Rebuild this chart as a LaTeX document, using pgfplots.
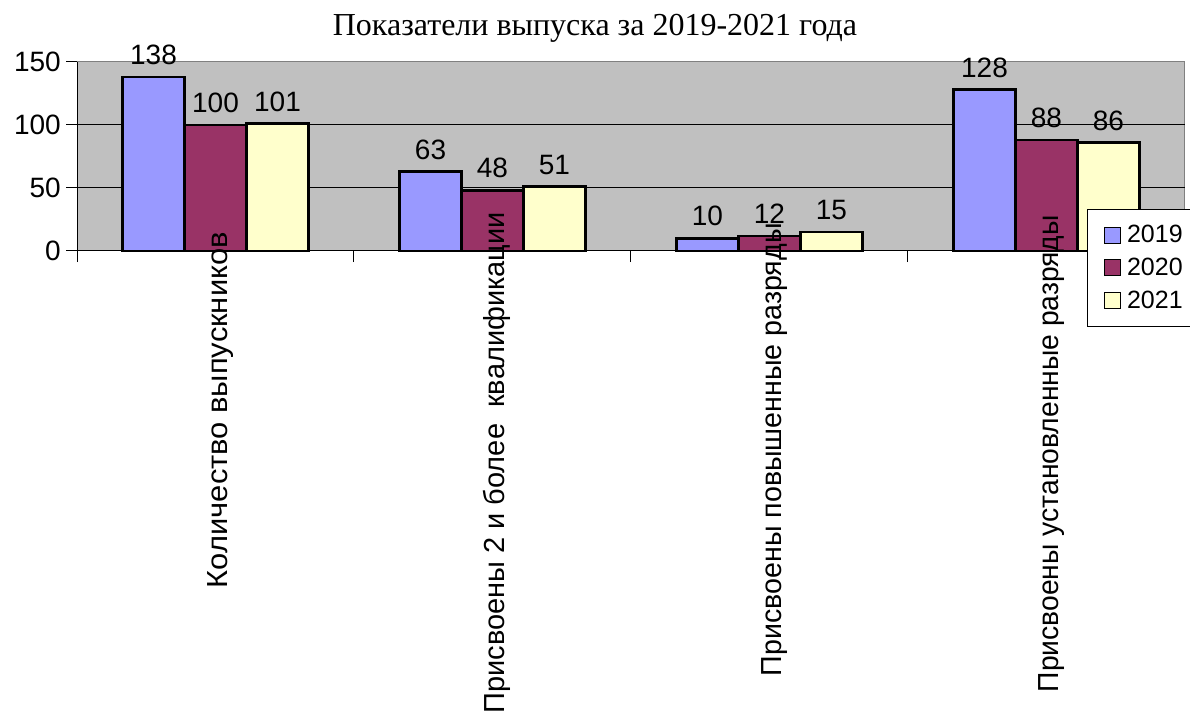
\documentclass[border=0pt]{standalone}
\usepackage{fontspec}
\setmainfont{Liberation Serif}
\setsansfont{Liberation Sans}
\usepackage{pgfplots}
\pgfplotsset{compat=1.18}
\definecolor{c19}{HTML}{9999FF}
\definecolor{c20}{HTML}{993366}
\definecolor{c21}{HTML}{FFFFCC}
\definecolor{bgc}{HTML}{C0C0C0}
\definecolor{frc}{HTML}{808080}
\pgfplotsset{
  sqleg/.style={legend image code/.code={\path[draw=none,fill=none] (0pt,0pt) -- (21pt,0pt); \draw[##1,line width=1pt] (0pt,-8pt) rectangle (16pt,8pt);}},
}
\tikzset{catlab/.style={rotate=90, anchor=base east, inner sep=0pt, font=\sffamily\fontsize{29}{33}\selectfont}}
\begin{document}
\begin{tikzpicture}
\node[anchor=base, inner sep=0pt, font=\fontsize{32}{36}\selectfont] at (595pt,686pt) {Показатели выпуска за 2019-2021 года};
\begin{axis}[
 at={(77pt,471pt)}, anchor=south west, scale only axis, width=1108pt, height=189pt,
 xmin=-0.5, xmax=3.5, ymin=0, ymax=150, clip=false,
 ybar, bar width=0.2238,
 ytick={0,50,100,150},
 xtick={-0.5,0.5,1.5,2.5,3.5},
 xticklabels={},
 yticklabel style={inner sep=0pt, xshift=-5pt, font=\sffamily\fontsize{28}{32}\selectfont},
 /pgf/number format/assume math mode=true,
 axis x line*=bottom, axis y line*=left, axis line style={-, black, line width=1pt},
 axis background/.style={fill=bgc, draw=frc, line width=1pt},
 extra y ticks={50,100}, extra y tick labels={},
 extra y tick style={ymajorgrids=true, major tick length=0pt},
 grid style={black, line width=1pt},
 tick align=outside, major tick length=11pt, tick style={black, line width=1pt},
 nodes near coords,
 nodes near coords style={font=\sffamily\fontsize{28}{32}\selectfont, inner sep=0pt, anchor=south, yshift=11pt, black},
 legend style={at={(axis description cs:0.9116,0.222)}, anchor=north west, draw=black, line width=1pt, fill=white, font=\sffamily\fontsize{25}{29}\selectfont, inner xsep=16pt, inner ysep=14pt, row sep=10pt},
 legend cell align=left,
]
\addplot[fill=c19, draw=black, line width=2.5pt, bar shift=-0.2238, sqleg] coordinates {(0,138) (1,63) (2,10) (3,128)};
\addplot[fill=c20, draw=black, line width=2.5pt, bar shift=0, sqleg] coordinates {(0,100) (1,48) (2,12) (3,88)};
\addplot[fill=c21, draw=black, line width=2.5pt, bar shift=0.2238, sqleg] coordinates {(0,101) (1,51) (2,15) (3,86)};
\legend{2019,2020,2021}
\node[catlab, xscale=1.066] at ([xshift=12pt,yshift=19pt]axis cs:0,0) {Количество выпускников};
\node[catlab] at ([xshift=12pt,yshift=39pt]axis cs:1,0) {Присвоены 2 и более\ \ квалификации};
\node[catlab, xscale=0.987] at ([xshift=12pt,yshift=28pt]axis cs:2,0) {Присвоены повышенные разряды};
\node[catlab, xscale=0.975] at ([xshift=12pt,yshift=36pt]axis cs:3,0) {Присвоены установленные разряды};
\end{axis}
\pgfresetboundingbox
\path[use as bounding box] (0pt,0pt) rectangle (1190pt,722pt);
\end{tikzpicture}
\end{document}
